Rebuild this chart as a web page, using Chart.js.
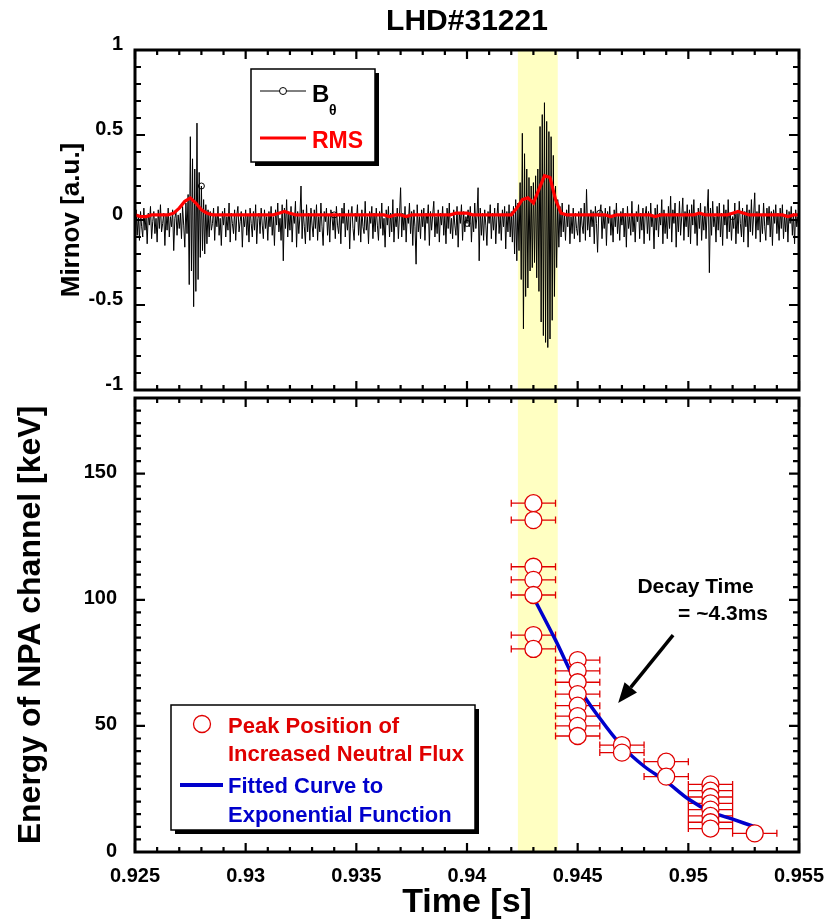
<!DOCTYPE html>
<html>
<head>
<meta charset="utf-8">
<title>LHD#31221</title>
<script src="https://cdn.jsdelivr.net/npm/chart.js@4.4.1/dist/chart.umd.min.js"></script>
<style>
  html, body { margin: 0; padding: 0; background: #fff; }
  #page { position: relative; width: 828px; height: 923px; overflow: hidden; }
  canvas { position: absolute; left: 0; }
  #mirnovChart { top: 0; }
  #npaChart { top: 368px; }
</style>
</head>
<body>
<div id="page">
  <canvas id="mirnovChart" width="828" height="402"></canvas>
  <canvas id="npaChart" width="828" height="555"></canvas>
</div>
<script>
// LHD#31221 - Mirnov burst and decay of the NPA peak energy

const SHOT_TITLE = "LHD#31221";
const FONT = "'Liberation Sans', Arial, Helvetica, sans-serif";

// time axis [s]
const timeMin = 0.925;
const timeMax = 0.955;
const timeTicks = [0.925, 0.93, 0.935, 0.94, 0.945, 0.95, 0.955];

// shaded interval (burst)
const burstStart = 0.9423;
const burstEnd = 0.9441;

// Mirnov coil B_theta, one sample every 50 us starting at 0.925 s
const bthetaT0 = 0.925;
const bthetaDt = 0.00005;
const bthetaValues = [
  -0.02, 0.06, -0.09, 0.03, -0.12, 0.05, -0.04, -0.10, 0.07, -0.06, 0.02, -0.14, 0.04, -0.03, 0.08, -0.11, -0.01, 0.05, -0.08, 0.01,
  -0.13, 0.06, -0.05, 0.09, -0.07, -0.02, 0.04, -0.15, 0.03, -0.06, 0.07, -0.10, 0.02, -0.04, 0.06, -0.18, 0.01, 0.05, -0.09, 0.03,
  -0.05, 0.04, -0.11, 0.08, -0.03, -0.16, 0.10, -0.08, 0.15, -0.38, 0.49, -0.30, 0.36, -0.51, 0.30, -0.42, 0.57, -0.35, 0.28, -0.22,
  0.20, -0.18, 0.12, -0.20, 0.09, -0.14, 0.06, -0.10, 0.05, -0.06, -0.02, 0.07, -0.12, 0.03, -0.04, 0.08, -0.09, 0.01, -0.15, 0.05,
  -0.03, 0.07, -0.10, 0.02, -0.06, 0.10, -0.13, 0.04, -0.02, -0.08, 0.06, -0.12, 0.03, 0.08, -0.07, -0.01, 0.05, -0.16, 0.02, -0.04,
  0.06, -0.09, 0.03, -0.13, 0.07, -0.02, -0.10, 0.05, -0.06, 0.09, -0.14, 0.01, 0.04, -0.08, 0.07, -0.03, -0.11, 0.06, -0.05, 0.02,
  -0.12, 0.05, -0.04, 0.08, -0.09, 0.02, -0.15, 0.06, -0.03, 0.10, -0.07, 0.01, -0.12, 0.09, -0.24, 0.07, -0.05, 0.12, -0.10, 0.04,
  -0.06, 0.08, -0.13, 0.03, -0.02, 0.11, -0.16, 0.05, -0.08, 0.02, 0.20, -0.11, 0.06, -0.04, -0.14, 0.09, -0.07, 0.04, -0.12, 0.07,
  -0.03, -0.10, 0.06, -0.05, 0.09, -0.12, 0.02, -0.07, 0.10, -0.04, -0.15, 0.05, -0.01, 0.07, -0.09, 0.03, -0.13, 0.06, 0.02, -0.06,
  0.03, -0.11, 0.08, -0.03, -0.08, 0.04, -0.14, 0.07, -0.02, 0.10, -0.10, 0.03, -0.06, 0.06, -0.17, 0.02, 0.08, -0.05, -0.12, 0.04,
  -0.01, 0.09, -0.09, 0.03, -0.13, 0.06, -0.04, -0.08, 0.11, -0.06, 0.02, -0.14, 0.05, -0.02, 0.08, -0.11, 0.04, -0.07, 0.07, -0.03,
  -0.12, 0.05, -0.05, 0.10, -0.09, 0.01, -0.16, 0.06, -0.03, 0.08, -0.10, 0.04, -0.07, 0.12, -0.13, 0.02, -0.04, 0.07, -0.11, 0.03,
  0.19, -0.10, 0.04, -0.06, 0.08, -0.13, 0.03, -0.02, 0.10, -0.08, 0.05, -0.15, 0.06, -0.04, -0.26, 0.09, -0.07, 0.02, -0.11, 0.06,
  -0.04, 0.07, -0.12, 0.04, -0.02, 0.09, -0.15, 0.05, -0.06, 0.03, 0.11, -0.10, 0.02, -0.08, 0.06, -0.13, 0.04, -0.03, 0.08, -0.09,
  0.03, -0.14, 0.07, -0.05, 0.10, -0.08, 0.01, -0.11, 0.06, -0.03, -0.09, 0.08, -0.16, 0.04, -0.02, 0.09, -0.12, 0.05, -0.07, 0.02,
  -0.02, 0.06, -0.04, 0.08, -0.13, 0.03, -0.07, 0.10, -0.05, 0.02, 0.19, -0.24, 0.07, -0.09, 0.04, -0.12, 0.06, -0.03, -0.15, 0.05,
  -0.02, 0.09, -0.11, 0.04, -0.06, 0.07, -0.14, 0.02, 0.10, -0.08, 0.03, -0.12, 0.06, -0.04, 0.08, -0.17, 0.05, -0.07, 0.09, -0.10,
  0.05, -0.13, 0.08, -0.20, 0.12, -0.24, 0.10, -0.18, 0.22, -0.35, 0.51, -0.64, 0.39, -0.45, 0.30, -0.40, 0.25, -0.30, 0.20, -0.28,
  0.22, -0.25, 0.26, -0.34, 0.30, -0.42, 0.55, -0.60, 0.62, -0.68, 0.69, -0.72, 0.58, -0.75, 0.52, -0.70, 0.49, -0.59, 0.38, -0.45,
  0.20, -0.28, 0.12, -0.16, 0.08, -0.10, 0.10, -0.07, 0.03, -0.12, 0.06, -0.04, 0.09, -0.14, 0.02, -0.08, 0.07, -0.11, 0.04, -0.05,
  -0.09, 0.05, -0.13, 0.07, -0.03, -0.08, 0.10, -0.12, 0.18, -0.06, 0.03, -0.10, 0.06, -0.04, 0.05, -0.14, 0.08, -0.02, -0.19, 0.04,
  0.04, 0.09, -0.11, 0.03, -0.05, 0.07, -0.15, 0.05, -0.02, 0.08, -0.09, 0.02, -0.13, 0.06, -0.04, 0.10, -0.08, 0.03, -0.12, 0.05,
  -0.03, 0.07, -0.10, 0.04, -0.16, 0.08, -0.05, 0.02, -0.09, 0.11, -0.07, 0.03, -0.13, 0.05, -0.01, 0.09, -0.11, 0.04, -0.06, 0.07,
  -0.14, 0.03, 0.08, -0.08, 0.05, -0.12, 0.10, -0.04, 0.02, -0.17, 0.07, -0.06, 0.09, -0.10, 0.04, -0.03, 0.12, -0.14, 0.06, -0.08,
  0.03, -0.11, 0.08, -0.05, 0.14, -0.13, 0.06, -0.02, 0.10, -0.16, 0.04, -0.07, 0.11, -0.09, 0.02, 0.13, -0.12, 0.05, -0.04, 0.09,
  -0.10, 0.06, -0.14, 0.09, -0.03, 0.12, -0.08, 0.04, -0.15, 0.07, -0.05, 0.10, -0.12, 0.03, -0.06, 0.08, -0.11, 0.05, 0.18, -0.31,
  0.07, -0.09, 0.11, -0.04, 0.02, -0.13, 0.08, -0.06, 0.10, -0.10, 0.04, -0.15, 0.09, -0.03, 0.06, -0.11, 0.12, -0.07, 0.03, -0.12,
  0.02, -0.05, 0.10, -0.14, 0.04, -0.08, 0.11, -0.02, -0.10, 0.07, -0.13, 0.05, -0.04, 0.09, -0.16, 0.06, -0.07, 0.12, -0.09, 0.03,
  0.16, -0.11, 0.05, -0.06, 0.09, -0.13, 0.03, -0.08, 0.10, -0.04, -0.12, 0.07, -0.03, 0.08, -0.10, 0.05, -0.15, 0.06, -0.02, 0.09,
  -0.08, 0.04, -0.12, 0.07, -0.05, 0.09, -0.11, 0.03, -0.07, 0.06, -0.13, 0.05, -0.02, 0.08, -0.09, 0.04, -0.14, 0.06, -0.04, 0.02,
  -0.06
];

// RMS of B_theta, one value every 250 us starting at 0.925 s
const rmsT0 = 0.925;
const rmsDt = 0.00025;
const rmsValues = [
  0.03, 0.02, 0.02, 0.03,   0.03, 0.03, 0.03, 0.04,   0.07, 0.11, 0.13, 0.10,
  0.06, 0.04, 0.03, 0.03,   0.03, 0.03, 0.03, 0.03,   0.03, 0.03, 0.03, 0.03,
  0.03, 0.03, 0.04, 0.05,   0.04, 0.03, 0.03, 0.03,   0.03, 0.03, 0.03, 0.03,
  0.03, 0.03, 0.03, 0.03,   0.03, 0.03, 0.03, 0.03,   0.03, 0.03, 0.02, 0.03,
  0.03, 0.02, 0.03, 0.03,   0.03, 0.03, 0.03, 0.03,   0.03, 0.03, 0.04, 0.04,
  0.04, 0.03, 0.03, 0.03,   0.03, 0.03, 0.03, 0.03,   0.03, 0.07, 0.12, 0.13,
  0.10, 0.18, 0.26, 0.25,   0.12, 0.04, 0.03, 0.03,   0.03, 0.03, 0.03, 0.03,
  0.03, 0.03, 0.02, 0.03,   0.03, 0.03, 0.03, 0.03,   0.03, 0.03, 0.02, 0.03,
  0.03, 0.03, 0.03, 0.03,   0.03, 0.03, 0.04, 0.03,   0.03, 0.03, 0.03, 0.03,
  0.04, 0.05, 0.04, 0.03,   0.03, 0.03, 0.03, 0.03,   0.03, 0.03, 0.02, 0.03,
  0.03
];

const mirnovTicks = [-1, -0.5, 0, 0.5, 1];

// NPA: peak position of increased neutral flux
const npaTime = [
  0.943, 0.943, 0.943, 0.943, 0.943, 0.943, 0.943,
  0.945, 0.945, 0.945, 0.945, 0.945, 0.945, 0.945, 0.945,
  0.947, 0.947,
  0.949, 0.949,
  0.951, 0.951, 0.951, 0.951, 0.951, 0.951, 0.951, 0.951,
  0.953
];
const npaEnergy = [
  138.3, 131.6, 113.1, 107.9, 101.9, 86.0, 80.5,
  76.1, 71.8, 67.3, 62.6, 58.0, 53.9, 50.0, 46.0,
  42.4, 39.4,
  35.8, 29.9,
  26.8, 24.3, 21.8, 19.3, 16.8, 14.3, 11.8, 9.3,
  7.4
];
const npaTimeErr = 0.001;

// fitted exponential curve (decay time ~4.3 ms)
const fitTime = [0.943, 0.944, 0.945, 0.946, 0.947, 0.948, 0.949, 0.950, 0.951, 0.952, 0.953];
const fitEnergy = [101, 84, 66, 53, 42, 34, 28, 21, 16, 13, 10];

const energyTicks = [0, 50, 100, 150];

// annotation anchors (data coordinates)
const decayLabelAt = { x: 0.9477, y: 102.6 };
const decayValueAt = { x: 0.9536, y: 92.0 };
const arrowTail = { x: 0.94931, y: 86 };
const arrowHead = { x: 0.94683, y: 59.1 };

// ---------- helpers ----------

function valuesBetween(min, max, step) {
  const n = Math.round((max - min) / step);
  const out = [];
  for (let k = 0; k <= n; k++) out.push(min + k * step);
  return out;
}

function onStep(v, step) {
  const r = v / step;
  return Math.abs(r - Math.round(r)) < 1e-6;
}

function tickText(v) {
  return String(Math.round(v * 1000) / 1000);
}

function drawBand(chart) {
  const { ctx, chartArea: a, scales: { x } } = chart;
  const x1 = x.getPixelForValue(burstStart);
  const x2 = x.getPixelForValue(burstEnd);
  ctx.save();
  ctx.fillStyle = "#ffffc2";
  ctx.fillRect(x1, a.top, x2 - x1, a.bottom - a.top);
  ctx.restore();
}

function drawFrame(chart, yMinor, yMajor) {
  const { ctx, chartArea: a, scales: { x, y } } = chart;
  ctx.save();
  ctx.strokeStyle = "#000";
  ctx.lineWidth = 2.2;
  ctx.beginPath();
  valuesBetween(timeMin, timeMax, 0.001).forEach(v => {
    const px = x.getPixelForValue(v);
    const len = onStep(v, 0.005) ? 9 : 5;
    ctx.moveTo(px, a.top); ctx.lineTo(px, a.top + len);
    ctx.moveTo(px, a.bottom); ctx.lineTo(px, a.bottom - len);
  });
  valuesBetween(y.min, y.max, yMinor).forEach(v => {
    const py = y.getPixelForValue(v);
    const len = onStep(v, yMajor) ? 10 : 6;
    ctx.moveTo(a.left, py); ctx.lineTo(a.left + len, py);
    ctx.moveTo(a.right, py); ctx.lineTo(a.right - len, py);
  });
  ctx.stroke();
  ctx.lineWidth = 3;
  ctx.strokeRect(a.left, a.top, a.right - a.left, a.bottom - a.top);
  ctx.restore();
}

function legendBox(ctx, left, top, w, h) {
  ctx.fillStyle = "#000";
  ctx.fillRect(left + 4, top + 4, w, h);
  ctx.fillStyle = "#fff";
  ctx.fillRect(left, top, w, h);
  ctx.strokeStyle = "#000";
  ctx.lineWidth = 1.5;
  ctx.strokeRect(left, top, w, h);
}

// ---------- top panel: Mirnov ----------

const mirnovPlugin = {
  id: "mirnovDecor",
  beforeDatasetsDraw(chart) {
    drawBand(chart);
  },
  afterDatasetsDraw(chart) {
    const { ctx, chartArea: a } = chart;
    drawFrame(chart, 0.1, 0.5);

    ctx.save();
    ctx.fillStyle = "#000";
    ctx.textAlign = "center";
    ctx.textBaseline = "alphabetic";
    ctx.font = `bold 30px ${FONT}`;
    ctx.fillText(SHOT_TITLE, (a.left + a.right) / 2, 30);

    // legend
    legendBox(ctx, 251, 69, 124, 93);
    ctx.strokeStyle = "#000";
    ctx.lineWidth = 1;
    ctx.beginPath();
    ctx.moveTo(260, 91); ctx.lineTo(306, 91);
    ctx.stroke();
    ctx.beginPath();
    ctx.arc(283, 91, 3.5, 0, Math.PI * 2);
    ctx.fillStyle = "#fff";
    ctx.fill();
    ctx.stroke();
    ctx.fillStyle = "#000";
    ctx.textAlign = "left";
    ctx.font = `bold 24px ${FONT}`;
    ctx.fillText("B", 312, 102);
    ctx.font = `bold 14px ${FONT}`;
    ctx.fillText("\u03b8", 329, 115);

    ctx.strokeStyle = "#ff0000";
    ctx.lineWidth = 3;
    ctx.beginPath();
    ctx.moveTo(260, 138); ctx.lineTo(306, 138);
    ctx.stroke();
    ctx.fillStyle = "#ff0000";
    ctx.font = `bold 23px ${FONT}`;
    ctx.fillText("RMS", 312, 148);
    ctx.restore();
  }
};

new Chart(document.getElementById("mirnovChart"), {
  type: "line",
  data: {
    datasets: [
      {
        label: "RMS",
        data: rmsValues.map((v, i) => ({ x: rmsT0 + i * rmsDt, y: v })),
        borderColor: "#ff0000",
        borderWidth: 3.2,
        pointRadius: 0,
        tension: 0
      },
      {
        label: "B\u03b8",
        data: bthetaValues.map((v, i) => ({ x: bthetaT0 + i * bthetaDt, y: v })),
        borderColor: "#000",
        borderWidth: 1,
        pointRadius: c => (c.dataIndex % 120 === 60 ? 3 : 0),
        pointBorderColor: "#000",
        pointBackgroundColor: "rgba(0,0,0,0)",
        pointBorderWidth: 1,
        tension: 0
      }
    ]
  },
  options: {
    responsive: false,
    animation: false,
    events: [],
    layout: { padding: { top: 50, right: 29, bottom: 12, left: 0 } },
    plugins: { legend: { display: false }, tooltip: { enabled: false } },
    scales: {
      x: {
        type: "linear",
        min: timeMin,
        max: timeMax,
        display: false
      },
      y: {
        min: -1,
        max: 1,
        afterFit: s => { s.width = 135; },
        afterBuildTicks: s => { s.ticks = mirnovTicks.map(v => ({ value: v })); },
        grid: { display: false, drawTicks: true, tickLength: 12 },
        border: { display: false },
        ticks: {
          color: "#000",
          font: { family: FONT, size: 20, weight: "bold" },
          padding: 0,
          labelOffset: -6,
          callback: v => tickText(v)
        },
        title: {
          display: true,
          text: "Mirnov [a.u.]",
          color: "#000",
          font: { family: FONT, size: 26, weight: "bold" },
          padding: { top: 56, bottom: 0 }
        }
      }
    }
  },
  plugins: [mirnovPlugin]
});

// ---------- bottom panel: NPA ----------

const npaPlugin = {
  id: "npaDecor",
  beforeDatasetsDraw(chart) {
    drawBand(chart);
    const { ctx, scales: { x, y } } = chart;
    ctx.save();
    ctx.strokeStyle = "#e00000";
    ctx.lineWidth = 1.3;
    ctx.beginPath();
    npaTime.forEach((t, i) => {
      const x1 = x.getPixelForValue(t - npaTimeErr);
      const x2 = x.getPixelForValue(t + npaTimeErr);
      const py = y.getPixelForValue(npaEnergy[i]);
      ctx.moveTo(x1, py); ctx.lineTo(x2, py);
      ctx.moveTo(x1, py - 3.5); ctx.lineTo(x1, py + 3.5);
      ctx.moveTo(x2, py - 3.5); ctx.lineTo(x2, py + 3.5);
    });
    ctx.stroke();
    ctx.restore();
  },
  afterDatasetsDraw(chart) {
    const { ctx, chartArea: a, scales: { x, y } } = chart;
    drawFrame(chart, 5, 50);

    ctx.save();
    // decay-time note and arrow
    ctx.fillStyle = "#000";
    ctx.font = `bold 21px ${FONT}`;
    ctx.textBaseline = "alphabetic";
    ctx.textAlign = "left";
    ctx.fillText("Decay Time", x.getPixelForValue(decayLabelAt.x), y.getPixelForValue(decayLabelAt.y));
    ctx.textAlign = "right";
    ctx.fillText("= ~4.3ms", x.getPixelForValue(decayValueAt.x), y.getPixelForValue(decayValueAt.y));

    const tx = x.getPixelForValue(arrowTail.x), ty = y.getPixelForValue(arrowTail.y);
    const hx = x.getPixelForValue(arrowHead.x), hy = y.getPixelForValue(arrowHead.y);
    const ang = Math.atan2(hy - ty, hx - tx);
    const headLen = 20, headHalf = 8;
    const bx = hx - headLen * Math.cos(ang), by = hy - headLen * Math.sin(ang);
    ctx.strokeStyle = "#000";
    ctx.lineWidth = 3.5;
    ctx.beginPath();
    ctx.moveTo(tx, ty); ctx.lineTo(bx, by);
    ctx.stroke();
    ctx.beginPath();
    ctx.moveTo(hx, hy);
    ctx.lineTo(bx + headHalf * Math.sin(ang), by - headHalf * Math.cos(ang));
    ctx.lineTo(bx - headHalf * Math.sin(ang), by + headHalf * Math.cos(ang));
    ctx.closePath();
    ctx.fill();

    // legend, placed relative to the plot area's top-left corner
    const L = a.left, T = a.top;
    legendBox(ctx, L + 36, T + 307, 304, 125);
    ctx.strokeStyle = "#e00000";
    ctx.lineWidth = 1.3;
    ctx.beginPath();
    ctx.arc(L + 67, T + 326, 8.5, 0, Math.PI * 2);
    ctx.stroke();
    ctx.strokeStyle = "#0000cc";
    ctx.lineWidth = 4;
    ctx.beginPath();
    ctx.moveTo(L + 45, T + 387); ctx.lineTo(L + 88, T + 387);
    ctx.stroke();

    ctx.textAlign = "left";
    ctx.font = `bold 22px ${FONT}`;
    ctx.fillStyle = "#e00000";
    ctx.fillText("Peak Position of", L + 93, T + 335);
    ctx.fillText("Increased Neutral Flux", L + 93, T + 363);
    ctx.fillStyle = "#0000cc";
    ctx.fillText("Fitted Curve to", L + 93, T + 395);
    ctx.fillText("Exponential Function", L + 93, T + 424);
    ctx.restore();
  }
};

new Chart(document.getElementById("npaChart"), {
  type: "scatter",
  data: {
    datasets: [
      {
        label: "Peak Position of Increased Neutral Flux",
        data: npaTime.map((t, i) => ({ x: t, y: npaEnergy[i] })),
        pointRadius: 8.5,
        pointBorderColor: "#e00000",
        pointBackgroundColor: "#fff",
        pointBorderWidth: 1.3
      },
      {
        type: "line",
        label: "Fitted Curve to Exponential Function",
        data: fitTime.map((t, i) => ({ x: t, y: fitEnergy[i] })),
        borderColor: "#0000cc",
        borderWidth: 3.5,
        pointRadius: 0,
        showLine: true,
        cubicInterpolationMode: "monotone"
      }
    ]
  },
  options: {
    responsive: false,
    animation: false,
    events: [],
    layout: { padding: { top: 30, right: 29, bottom: 0, left: 0 } },
    plugins: { legend: { display: false }, tooltip: { enabled: false } },
    scales: {
      x: {
        type: "linear",
        min: timeMin,
        max: timeMax,
        afterFit: s => { s.height = 71; },
        afterBuildTicks: s => { s.ticks = timeTicks.map(v => ({ value: v })); },
        grid: { display: false, drawTicks: true, tickLength: 12 },
        border: { display: false },
        ticks: {
          color: "#000",
          font: { family: FONT, size: 20, weight: "bold" },
          padding: 0,
          maxRotation: 0,
          callback: v => tickText(v)
        },
        title: {
          display: true,
          text: "Time [s]",
          color: "#000",
          font: { family: FONT, size: 34, weight: "bold" },
          padding: { top: 0, bottom: 0 }
        }
      },
      y: {
        min: 0,
        max: 180,
        afterFit: s => { s.width = 135; },
        afterBuildTicks: s => { s.ticks = energyTicks.map(v => ({ value: v })); },
        grid: { display: false, drawTicks: true, tickLength: 18 },
        border: { display: false },
        ticks: {
          color: "#000",
          font: { family: FONT, size: 20, weight: "bold" },
          padding: 0,
          labelOffset: -1,
          callback: v => tickText(v)
        },
        title: {
          display: true,
          text: "Energy of NPA channel [keV]",
          color: "#000",
          font: { family: FONT, size: 32, weight: "bold" },
          padding: { top: 12, bottom: 0 }
        }
      }
    }
  },
  plugins: [npaPlugin]
});
</script>
</body>
</html>
